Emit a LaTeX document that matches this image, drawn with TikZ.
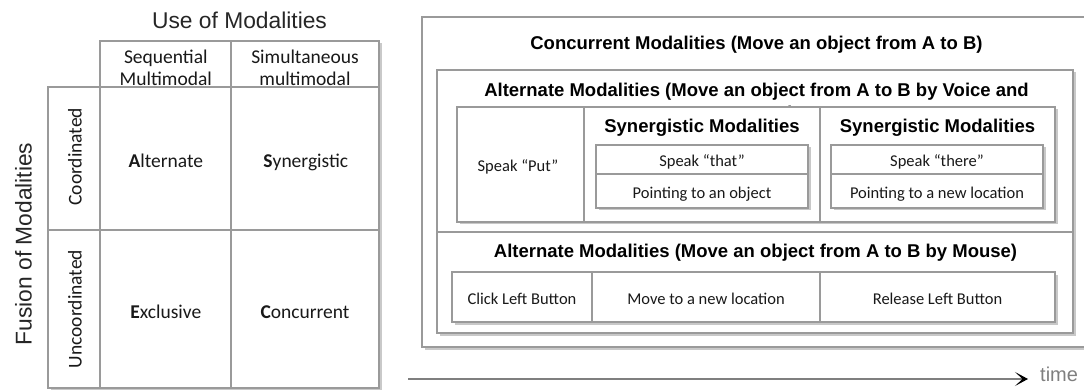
\documentclass[tikz,border=0pt]{standalone}
\usepackage{fontspec}
\setmainfont{Carlito}
\newfontfamily\arialf{Liberation Sans}
\usetikzlibrary{shadows,fit,arrows.meta}
\definecolor{bordergray}{HTML}{9A9A9A}
\definecolor{timegray}{HTML}{7F7F7F}
\newcommand\gridfont{\fontsize{19.5}{21.5}\selectfont}
\newcommand\celltextfont{\fontsize{16.5}{19}\selectfont}
\newcommand\titlefont{\arialf\bfseries\fontsize{18.5}{22.5}\selectfont}
\newcommand\axisfont{\arialf\fontsize{22.8}{26}\selectfont}
\newcommand\timefont{\arialf\fontsize{20}{22}\selectfont}
\begin{document}
\begin{tikzpicture}[x=1pt,y=-1pt,
  cellbox/.style={draw=bordergray,line width=1.1pt,fill=white,inner sep=0pt},
  shadowed/.style={drop shadow={shadow xshift=2.5pt,shadow yshift=-2.5pt,opacity=0.3,fill=black!70}},
  gridtext/.style={font=\gridfont,text=black!90,inner sep=0pt,anchor=base},
  celltext/.style={font=\celltextfont,text=black!90,inner sep=0pt,anchor=base},
  boldtitle/.style={font=\titlefont,text=black,inner sep=0pt,anchor=base},
  axistitle/.style={font=\axisfont,text=black!85,inner sep=0pt,anchor=base},
  timeline/.style={draw=timegray,line width=1.5pt,-{Stealth[length=13pt,width=14pt,inset=7.5pt,color=black]}}
]
\useasboundingbox (0,0) rectangle (1084,390);

% ---------- left grid ----------
\node[axistitle] (usetitle) at (239.5,28.3) {Use of Modalities};
\node[axistitle,rotate=90] (fusiontitle) at (31.7,244) {Fusion of Modalities};

\node[fit={(100,41)(379,388)},inner sep=0pt,fill=white,shadowed] (gridframe) {};
\node[fit={(48,87)(100,388)},inner sep=0pt,fill=white,shadowed] (sideframe) {};

\node[cellbox,fit={(100,41)(231,87)}] (hseq) {};
\node[cellbox,fit={(231,41)(379,87)}] (hsim) {};
\node[cellbox,fit={(48,87)(100,230)}] (lco) {};
\node[cellbox,fit={(48,230)(100,388)}] (lun) {};
\node[cellbox,fit={(100,87)(231,230)}] (calt) {};
\node[cellbox,fit={(231,87)(379,230)}] (csyn) {};
\node[cellbox,fit={(100,230)(231,388)}] (cexc) {};
\node[cellbox,fit={(231,230)(379,388)}] (ccon) {};

\node[gridtext,align=center] (tseq) at (165.8,85.5) {Sequential\\Multimodal};
\node[gridtext,align=center] (tsim) at (305,85.5) {Simultaneous\\multimodal};
\node[gridtext,rotate=90] (tco) at (81.7,156.7) {Coordinated};
\node[gridtext,rotate=90] (tun) at (81.7,309) {Uncoordinated};
\node[gridtext] (talt) at (165.8,167.5) {\textbf{A}lternate};
\node[gridtext] (tsyn) at (305.8,167.5) {\textbf{S}ynergistic};
\node[gridtext] (texc) at (165.8,318.3) {\textbf{E}xclusive};
\node[gridtext] (tcon) at (305,318.3) {\textbf{C}oncurrent};

% ---------- right panel ----------
\node[cellbox,shadowed,fit={(422,17)(1092,347)}] (concur) {};
\node[boldtitle] (concurtitle) at (756.5,50) {Concurrent Modalities (Move an object from A to B)};

\node[cellbox,shadowed,fit={(437,70)(1073,232)}] (altvoice) {};
\node[boldtitle,align=center] (altvoicetitle) at (756.5,119.5) {Alternate Modalities (Move an object from A to B by Voice and\\Gesture)};

\node[cellbox,shadowed,fit={(457,107)(1055,222)}] (voicetab) {};
\node[cellbox,fit={(457,107)(584,222)}] (putcell) {};
\node[cellbox,fit={(584,107)(820,222)}] (syncellA) {};
\node[cellbox,fit={(820,107)(1055,222)}] (syncellB) {};
\node[celltext] (tput) at (518,171.7) {Speak “Put”};
\node[boldtitle] (synA) at (702,133) {Synergistic Modalities};
\node[boldtitle] (synB) at (937.5,133) {Synergistic Modalities};

\node[cellbox,shadowed,fit={(596,145)(808,208)}] (synAtab) {};
\node[cellbox,fit={(596,145)(808,174)}] (thatcell) {};
\node[cellbox,fit={(596,174)(808,208)}] (objcell) {};
\node[cellbox,shadowed,fit={(831,145)(1043,208)}] (synBtab) {};
\node[cellbox,fit={(831,145)(1043,174)}] (therecell) {};
\node[cellbox,fit={(831,174)(1043,208)}] (loccell) {};
\node[celltext] (tthat) at (702,166.5) {Speak “that”};
\node[celltext] (tobj) at (702,198.5) {Pointing to an object};
\node[celltext] (tthere) at (937,166.5) {Speak “there”};
\node[celltext] (tloc) at (937,198.5) {Pointing to a new location};

\node[cellbox,shadowed,fit={(437,232)(1073,333)}] (altmouse) {};
\node[boldtitle] (altmousetitle) at (755.5,258) {Alternate Modalities (Move an object from A to B by Mouse)};
\node[cellbox,shadowed,fit={(452,272)(1055,322)}] (mousetab) {};
\node[cellbox,fit={(452,272)(592,322)}] (clickcell) {};
\node[cellbox,fit={(592,272)(820,322)}] (movecell) {};
\node[cellbox,fit={(820,272)(1055,322)}] (releasecell) {};
\node[celltext] (tclick) at (522,304) {Click Left Button};
\node[celltext] (tmove) at (706,304) {Move to a new location};
\node[celltext] (trelease) at (937.5,304) {Release Left Button};

% ---------- time axis ----------
\coordinate (tstart) at (408,379);
\coordinate (tend) at (1028,379);
\draw[timeline] (tstart) -- (tend);
\node[font=\timefont,text=timegray,inner sep=0pt,anchor=base west] (timelabel) at (1040,381) {time};
\end{tikzpicture}
\end{document}
